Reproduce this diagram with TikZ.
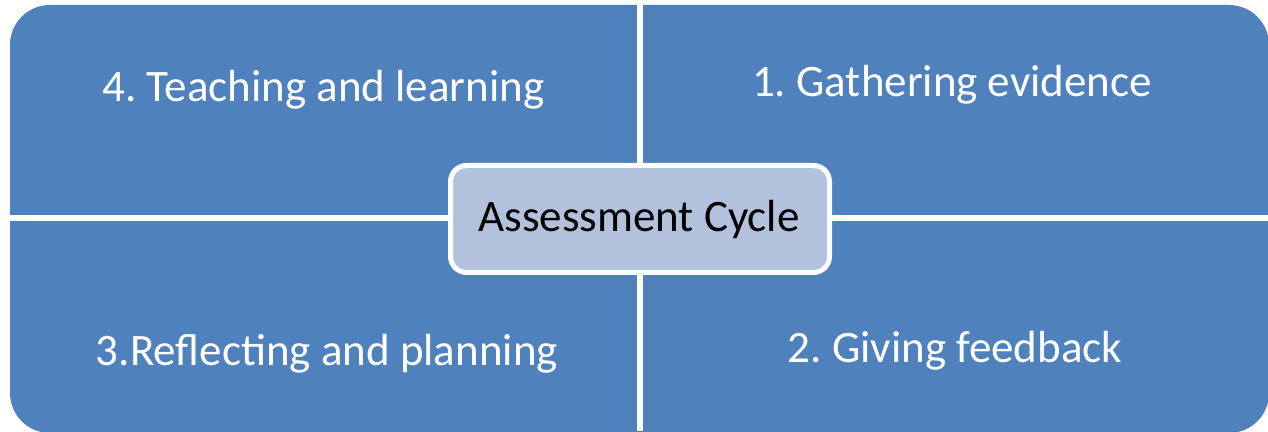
\documentclass[tikz,border=0pt]{standalone}
\usepackage{fontspec}
\setmainfont{Carlito}
\frenchspacing
\definecolor{quadblue}{HTML}{4F81BD}
\definecolor{centerfill}{HTML}{B2C2DD}
\begin{document}
\begin{tikzpicture}[x=1pt,y=1pt,
  quadtext/.style={text=white,font=\fontsize{45}{54}\selectfont,inner sep=0pt,anchor=base},
  centerbox/.style={draw=white,line width=5pt,fill=centerfill,rounded corners=16pt,
    minimum width=379pt,minimum height=107pt,inner sep=0pt},
  centertext/.style={font=\fontsize{45}{54}\selectfont,text=black,inner sep=0pt,anchor=base}]
\useasboundingbox (0,0) rectangle (1268,431);
\fill[white] (0,0) rectangle (1268,431);
% panel (y measured upward: y = 431 - ypx)
\fill[quadblue,rounded corners=40pt] (10,-2) rectangle (1269,426);
% white cross gaps
\fill[white] (0,210) rectangle (1268,216);
\fill[white] (637,0) rectangle (643,431);
% labels
\node[quadtext] (q4) at (323.5,329) {4. Teaching and learning};
\node[quadtext] (q1) at (952,334) {1. Gathering evidence};
\node[quadtext] (q3) at (327,66) {3.Reflecting and planning};
\node[quadtext] (q2) at (955,68) {2. Giving feedback};
\node[centerbox] (c) at (640,212) {};
\node[centertext] (ct) at (639,199) {Assessment Cycle};
\end{tikzpicture}
\end{document}
